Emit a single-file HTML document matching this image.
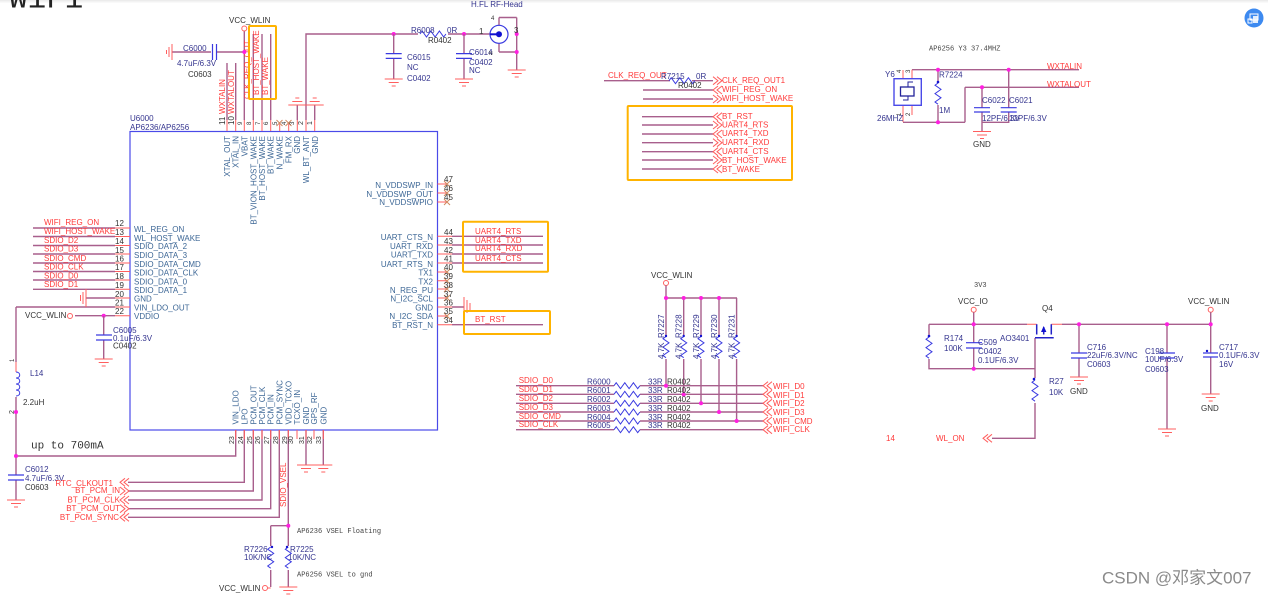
<!DOCTYPE html>
<html><head><meta charset="utf-8"><title>WiFi schematic</title>
<style>
html,body{margin:0;padding:0;background:#fff;width:1268px;height:596px;overflow:hidden}
svg{display:block;filter:blur(.3px)}
text{font-family:"Liberation Sans","Noto Sans CJK SC",sans-serif;font-size:8px;fill:#333}
.r{fill:#ff3a3a}.b{fill:#3d6796}.n{fill:#35358f}.k{fill:#333}
.m{font-family:"Liberation Mono",monospace;font-size:7px;fill:#444}
.w{fill:none;stroke:#a85f8c;stroke-width:1.4}
.p{fill:none;stroke:#ff5f5f;stroke-width:1}
.u{fill:none;stroke:#3a3ae0;stroke-width:1}
.o{fill:none;stroke:#ffb300;stroke-width:2}
.j{fill:#ff1fe0}
</style></head><body>
<svg width="1268" height="596" viewBox="0 0 1268 596" xmlns="http://www.w3.org/2000/svg">
<defs>
<path id="g" d="M-9 0H9M-5 3.5H5M-2 7H2" fill="none" stroke="#ff5f5f"/>
<path id="gu" d="M-9 0H9M-5 -3.5H5M-2 -7H2" fill="none" stroke="#ff5f5f"/>
<path id="hr" d="M0 0l2.2-3 4.3 6 4.3-6 4.3 6 4.3-6 4.3 6 2.2-3" fill="none" stroke="#3a3ae0"/>
<path id="vr" d="M0 0l-3 2.2 6 4.2-6 4.2 6 4.2-6 4.2 3 2.2" fill="none" stroke="#3a3ae0"/>
<path id="cl" d="M5-4L0 0 5 4M9-4L4 0 9 4" fill="none" stroke="#ff5f5f"/>
<path id="cr" d="M0-4L5 0 0 4M4-4L9 0 4 4" fill="none" stroke="#ff5f5f"/>
<path id="cv" d="M-8-2.4H8M-8 2.4H8" fill="none" stroke="#3a3ae0" stroke-width="1.2"/>
</defs>
<rect width="1268" height="596" fill="#fff"/>
<rect width="1268" height="1" fill="#ececec"/>
<rect y="1" width="1268" height="1" fill="#f3f3f3"/>
<rect y="2" width="1268" height="1" fill="#f9f9f9"/>

<text x="9" y="7.5" style="font-family:'Liberation Mono',monospace;font-size:31px;fill:#222">WiFi</text>

<!-- chip -->
<rect x="130" y="131.5" width="307.5" height="298.5" fill="none" stroke="#4a4ae8" stroke-width="1.2"/>
<text x="130" y="121" class="n">U6000</text>
<text x="130" y="130" class="n">AP6236/AP6256</text>

<!-- top pins -->
<path class="w" d="M227 63V120M235.7 63V120M244.3 31V120M253.3 34V120M262 34V120M270.7 34V120M297.3 105V120M314.7 105V120M306 120V34H490"/>
<path class="p" d="M227 120V131M235.7 120V131M244.3 120V131M253.3 120V131M262 120V131M270.7 120V131M279.7 122V131M288.7 122V131M297.3 120V131M306 120V131M314.7 120V131"/>
<path d="M276.5 120l6 6m0-6l-6 6M285.5 120l6 6m0-6l-6 6" stroke="#d08a60" fill="none"/>
<use href="#gu" x="297.3" y="105"/><use href="#gu" x="314.7" y="105"/>
<g class="k" style="font-size:7px">
<text transform="translate(225,125) rotate(-90)" style="font-size:8px">11</text>
<text transform="translate(234,125) rotate(-90)" style="font-size:8px">10</text>
<text transform="translate(242,125) rotate(-90)" style="font-size:6px">9</text>
<text transform="translate(251,125) rotate(-90)" style="font-size:6px">8</text>
<text transform="translate(260,125) rotate(-90)" style="font-size:6px">7</text>
<text transform="translate(268,125) rotate(-90)" style="font-size:6px">6</text>
<text transform="translate(277,125) rotate(-90)" style="font-size:6px">5</text>
<text transform="translate(286,125) rotate(-90)" style="font-size:6px">4</text>
<text transform="translate(294,125) rotate(-90)" style="font-size:6px">3</text>
<text transform="translate(303,125) rotate(-90)" style="font-size:7px">2</text>
<text transform="translate(312,125) rotate(-90)" style="font-size:7px">1</text>
</g>
<g class="b">
<text class="b" text-anchor="end" transform="translate(230,136) rotate(-90)">XTAL_OUT</text>
<text class="b" text-anchor="end" transform="translate(238.7,136) rotate(-90)">XTAL_IN</text>
<text class="b" text-anchor="end" transform="translate(247.3,136) rotate(-90)">VBAT</text>
<text class="b" text-anchor="end" transform="translate(256.3,136) rotate(-90)">BT_VION_HOST_WAKE</text>
<text class="b" text-anchor="end" transform="translate(265,136) rotate(-90)">BT_HOST_WAKE</text>
<text class="b" text-anchor="end" transform="translate(273.7,136) rotate(-90)">BT_WAKE</text>
<text class="b" text-anchor="end" transform="translate(282.7,136) rotate(-90)">N_WAKE</text>
<text class="b" text-anchor="end" transform="translate(291.7,136) rotate(-90)">FM_RX</text>
<text class="b" text-anchor="end" transform="translate(300,136) rotate(-90)">GND</text>
<text class="b" text-anchor="end" transform="translate(309,136) rotate(-90)">WL_BT_ANT</text>
<text class="b" text-anchor="end" transform="translate(318,136) rotate(-90)">GND</text>
</g>
<text class="r" transform="translate(225,114) rotate(-90)">WXTALIN</text>
<text class="r" transform="translate(234,114) rotate(-90)">WXTALOUT</text>
<text class="r" transform="translate(250,99) rotate(-90)">CLK_REQ_OUT</text>
<text class="r" transform="translate(259,95) rotate(-90)">BT_HOST_WAKE</text>
<text class="r" transform="translate(268,95) rotate(-90)">BT_WAKE</text>

<!-- C6000 -->
<text x="229" y="23">VCC_WLIN</text>
<circle cx="244.3" cy="28.5" r="2.5" fill="none" stroke="#ff5f5f"/>
<path class="w" d="M172 52H211M217 52H244"/>
<path class="u" d="M212.5 44V60M216.5 44V60" style="stroke-width:1.2"/>
<path d="M172 44V60M169 47V57M166.500 50V54" fill="none" stroke="#ff5f5f"/>
<circle class="j" cx="244.300" cy="52" r="2"/>
<text x="183" y="51" class="n">C6000</text>
<text x="177" y="66" class="n">4.7uF/6.3V</text>
<text x="188" y="77">C0603</text>
<rect class="o" x="249" y="26" width="27" height="73" rx="1"/>

<!-- antenna net -->
<circle class="j" cx="393.700" cy="34" r="2"/><circle class="j" cx="464" cy="34" r="2"/>
<rect x="418" y="31" width="30" height="6" fill="#fff"/>
<use href="#hr" x="420" y="34"/>
<text x="411" y="33" class="n">R6008</text>
<text x="447" y="33" class="n">0R</text>
<text x="428" y="43">R0402</text>
<path class="w" d="M393.7 34V53M393.7 59V79M464 34V53M464 59V79M516.7 17.500V70M499 17.500H516.700M499 52H516.700M499 17.500V25M499 43V52"/>
<use href="#cv" x="393.700" y="56"/><use href="#cv" x="464" y="56"/>
<use href="#g" x="393.700" y="79"/><use href="#g" x="464" y="79"/><use href="#g" x="516.700" y="70"/>
<text x="407" y="60" class="n">C6015</text>
<text x="407" y="70" class="n">NC</text>
<text x="407" y="81" class="n">C0402</text>
<text x="469" y="55" class="n">C6014</text>
<text x="489" y="55" class="k" style="font-size:5px">N</text>
<text x="469" y="65" class="n">C0402</text>
<text x="469" y="73" class="n">NC</text>
<circle cx="499" cy="34.300" r="9" fill="#fff" stroke="#3a3ae0" stroke-width="1.200"/>
<path d="M490 34.300H499" stroke="#1010d0" stroke-width="2"/>
<circle cx="499" cy="34.300" r="3" fill="#1010d0"/>
<circle class="j" cx="516.700" cy="34" r="2"/><circle class="j" cx="516.700" cy="52" r="2"/>
<text x="471" y="7" class="n">H.FL RF-Head</text>
<text x="491" y="20" style="font-size:6px">4</text>
<text x="514" y="33">3</text>
<text x="479" y="34">1</text>

<!-- left pins -->
<path class="w" d="M33 228H115M33 236.500H115M33 245.500H115M33 254H115M33 263H115M33 271.500H115M33 280H115M33 289.300H115M86 298H115M16 307H115M75 315.700H115M16 307V362"/>
<path class="p" d="M115 228H130M115 236.500H130M115 245.500H130M115 254H130M115 263H130M115 271.500H130M115 280H130M115 289.300H130M115 298H130M115 307H130M115 315.700H130"/>
<path d="M86 289V307M83 292V304M80.500 295V301" fill="none" stroke="#ff5f5f"/>
<g>
<text x="44" y="225" class="r">WIFI_REG_ON</text>
<text x="44" y="234" class="r">WIFI_HOST_WAKE</text>
<text x="44" y="243" class="r">SDIO_D2</text>
<text x="44" y="251.500" class="r">SDIO_D3</text>
<text x="44" y="261" class="r">SDIO_CMD</text>
<text x="44" y="269.500" class="r">SDIO_CLK</text>
<text x="44" y="278.500" class="r">SDIO_D0</text>
<text x="44" y="287" class="r">SDIO_D1</text>
</g>
<g>
<text x="115" y="226">12</text><text x="115" y="235">13</text><text x="115" y="244">14</text><text x="115" y="253">15</text><text x="115" y="261.500">16</text><text x="115" y="270">17</text><text x="115" y="279">18</text><text x="115" y="288">19</text><text x="115" y="297">20</text><text x="115" y="305.500">21</text><text x="115" y="314">22</text>
</g>
<g>
<text x="134" y="232" class="b">WL_REG_ON</text>
<text x="134" y="241" class="b">WL_HOST_WAKE</text>
<text x="134" y="249" class="b">SDIO_DATA_2</text>
<text x="134" y="258" class="b">SDIO_DATA_3</text>
<text x="134" y="267" class="b">SDIO_DATA_CMD</text>
<text x="134" y="275.500" class="b">SDIO_DATA_CLK</text>
<text x="134" y="284.500" class="b">SDIO_DATA_0</text>
<text x="134" y="293" class="b">SDIO_DATA_1</text>
<text x="134" y="301.500" class="b">GND</text>
<text x="134" y="310.500" class="b">VIN_LDO_OUT</text>
<text x="134" y="319" class="b">VDDIO</text>
</g>
<text x="25" y="318">VCC_WLIN</text>
<circle cx="70" cy="316" r="2.500" fill="none" stroke="#ff5f5f"/>
<circle class="j" cx="103.700" cy="315.700" r="2"/>
<path class="w" d="M103.700 316V335M103.700 340V359"/>
<path d="M96 335H112M96 340H112" stroke="#3a3ae0" stroke-width="1.200"/>
<use href="#g" x="103.700" y="359"/>
<text x="113" y="333" class="n">C6005</text>
<text x="113" y="341" class="n">0.1uF/6.3V</text>
<text x="113" y="348.500">C0402</text>

<!-- L14 -->
<text transform="translate(14,362) rotate(-90)" style="font-size:6px">1</text>
<text transform="translate(14,414) rotate(-90)" style="font-size:7px">2</text>
<path class="p" d="M16 362V372"/>
<path class="u" d="M16 372c5 0 5 6 0 6 5 0 5 6 0 6 5 0 5 6 0 6 5 0 5 6 0 6"/>
<path class="w" d="M16 397V475M16 480V500M16 456H235.700V430"/>
<circle class="j" cx="16" cy="412" r="2"/><circle class="j" cx="16" cy="456" r="2"/>
<text x="30" y="376" class="n">L14</text>
<text x="23" y="405">2.2uH</text>
<text x="31" y="448.500" class="m" style="font-size:11px;fill:#333">up to 700mA</text>
<path d="M8 475H24M8 480H24" stroke="#3a3ae0" stroke-width="1.200"/>
<use href="#g" x="16" y="500"/>
<text x="25" y="472" class="n">C6012</text>
<text x="25" y="481" class="n">4.7uF/6.3V</text>
<text x="25" y="490">C0603</text>

<!-- bottom pins -->
<path class="w" d="M128 482.300H244.300V430M128 491H253.300V430M128 500H262V430M128 508.700H270.700V430M128 517.300H279.300V430M288.300 430V587M270.700 525.700H288.300M270.700 525.700V587M306 430V465M323.300 430V465"/>
<path class="p" d="M235.700 430V439M244.300 430V439M253.300 430V439M262 430V439M270.700 430V439M279.300 430V439M288.300 430V439M297 430V439M306 430V439M314 430V439M323.300 430V439"/>
<use href="#g" x="306" y="465"/><use href="#g" x="323.300" y="465"/>
<g>
<text transform="translate(234,444) rotate(-90)" style="font-size:7px">23</text><text transform="translate(243,444) rotate(-90)" style="font-size:7px">24</text><text transform="translate(252,444) rotate(-90)" style="font-size:7px">25</text><text transform="translate(260,444) rotate(-90)" style="font-size:7px">26</text><text transform="translate(269,444) rotate(-90)" style="font-size:7px">27</text><text transform="translate(278,444) rotate(-90)" style="font-size:7px">28</text><text transform="translate(287,444) rotate(-90)" style="font-size:7px">29</text><text transform="translate(293,444) rotate(-90)" style="font-size:7px">30</text><text transform="translate(304,444) rotate(-90)" style="font-size:7px">31</text><text transform="translate(312,444) rotate(-90)" style="font-size:7px">32</text><text transform="translate(321,444) rotate(-90)" style="font-size:7px">33</text>
</g>
<g>
<text class="b" transform="translate(238.700,424.500) rotate(-90)">VIN_LDO</text>
<text class="b" transform="translate(247.300,424.500) rotate(-90)">LPO</text>
<text class="b" transform="translate(256.300,424.500) rotate(-90)">PCM_OUT</text>
<text class="b" transform="translate(265,424.500) rotate(-90)">PCM_CLK</text>
<text class="b" transform="translate(273.700,424.500) rotate(-90)">PCM_IN</text>
<text class="b" transform="translate(282.300,424.500) rotate(-90)">PCM_SYNC</text>
<text class="b" transform="translate(291.300,424.500) rotate(-90)">VDD_TCXO</text>
<text class="b" transform="translate(300,424.500) rotate(-90)">TCXO_IN</text>
<text class="b" transform="translate(309,424.500) rotate(-90)">GND</text>
<text class="b" transform="translate(317,424.500) rotate(-90)">GPS_RF</text>
<text class="b" transform="translate(326.300,424.500) rotate(-90)">GND</text>
</g>
<use href="#cl" x="120" y="482.300"/><use href="#cr" x="120" y="491"/><use href="#cl" x="120" y="500"/><use href="#cr" x="120" y="508.700"/><use href="#cl" x="120" y="517.300"/>
<g text-anchor="end">
<text x="113" y="486" class="r">RTC_CLKOUT1</text>
<text x="120" y="493" class="r">BT_PCM_IN</text>
<text x="120" y="502.700" class="r">BT_PCM_CLK</text>
<text x="120" y="511" class="r">BT_PCM_OUT</text>
<text x="119" y="520" class="r">BT_PCM_SYNC</text>
</g>
<text class="r" transform="translate(286,507) rotate(-90)">SDIO_VSEL</text>
<circle class="j" cx="288.300" cy="525.700" r="2"/>
<text x="297" y="533" class="m">AP6236 VSEL Floating</text>
<text x="297" y="576.500" class="m">AP6256 VSEL to gnd</text>
<rect x="267" y="546" width="25" height="24" fill="#fff"/>
<use href="#vr" x="270.700" y="547"/><use href="#vr" x="288.300" y="547"/>
<circle cx="272" cy="547" r="1.200" fill="#1010d0"/><circle cx="287" cy="547" r="1.200" fill="#1010d0"/>
<text x="244" y="552" class="n">R7226</text><text x="244" y="560" class="n">10K/NC</text>
<text x="290" y="552" class="n">R7225</text><text x="288" y="560" class="n">10K/NC</text>
<circle cx="265" cy="588" r="2.500" fill="none" stroke="#ff5f5f"/>
<path class="p" d="M267.500 588H270.700"/>
<text x="219" y="591">VCC_WLIN</text>
<use href="#g" x="288.300" y="587"/>

<!-- right pins -->
<path class="p" d="M437.500 184H447M437.500 193H447M437.500 202H447M437.500 272H447M437.500 280.700H447M437.500 289H447M437.500 298H447M437.500 316H447M437.500 236.300H452M437.500 245H452M437.500 254H452M437.500 263H452M437.500 324.700H452M437.500 307H452"/>
<path class="w" d="M452 236.300H543M452 245H543M452 254H543M452 263H543M452 324.700H543M452 307H464"/>
<path d="M444 181l6 6m0-6l-6 6M444 190l6 6m0-6l-6 6M444 199l6 6m0-6l-6 6M444 269l6 6m0-6l-6 6M444 278l6 6m0-6l-6 6M444 286l6 6m0-6l-6 6M444 295l6 6m0-6l-6 6M444 313l6 6m0-6l-6 6" stroke="#d08a60" fill="none"/>
<path d="M464 297V316M467 300V313M470 303V310" fill="none" stroke="#ff5f5f"/>
<g text-anchor="end">
<text x="433" y="188" class="b">N_VDDSWP_IN</text>
<text x="433" y="197" class="b">N_VDDSWP_OUT</text>
<text x="433" y="205" class="b">N_VDDSWPIO</text>
<text x="433" y="240" class="b">UART_CTS_N</text>
<text x="433" y="249" class="b">UART_RXD</text>
<text x="433" y="257.500" class="b">UART_TXD</text>
<text x="433" y="267" class="b">UART_RTS_N</text>
<text x="433" y="275.500" class="b">TX1</text>
<text x="433" y="284.500" class="b">TX2</text>
<text x="433" y="293" class="b">N_REG_PU</text>
<text x="433" y="301.500" class="b">N_I2C_SCL</text>
<text x="433" y="310.500" class="b">GND</text>
<text x="433" y="319" class="b">N_I2C_SDA</text>
<text x="433" y="328" class="b">BT_RST_N</text>
</g>
<g>
<text x="444" y="182">47</text><text x="444" y="191">46</text><text x="444" y="200">45</text>
<text x="444" y="235">44</text><text x="444" y="244">43</text><text x="444" y="253">42</text><text x="444" y="261.500">41</text><text x="444" y="270">40</text><text x="444" y="279">39</text><text x="444" y="288">38</text><text x="444" y="297">37</text><text x="444" y="305.500">36</text><text x="444" y="314">35</text><text x="444" y="323">34</text>
</g>
<text x="475" y="234" class="r">UART4_RTS</text>
<text x="475" y="243" class="r">UART4_TXD</text>
<text x="475" y="251" class="r">UART4_RXD</text>
<text x="475" y="261" class="r">UART4_CTS</text>
<text x="475" y="322" class="r">BT_RST</text>
<rect class="o" x="463" y="221.700" width="85" height="50" rx="1"/>
<rect class="o" x="464" y="311" width="86" height="23" rx="1"/>

<!-- middle top labels -->
<text x="608" y="78" class="r">CLK_REQ_OUT</text>
<path class="w" d="M604 80.700H670M692 80.700H713M643 90H713M643 99H713M642 116.700H713M642 125H713M642 134H713M642 142.700H713M642 151.700H713M642 160H713M642 169H713"/>
<use href="#hr" x="669" y="80.700"/>
<text x="661" y="79" class="n">R7215</text><text x="696" y="79" class="n">0R</text><text x="678" y="88">R0402</text>
<use href="#cr" x="713" y="80.700"/><use href="#cl" x="713" y="90"/><use href="#cr" x="713" y="99"/><use href="#cl" x="713" y="116.700"/><use href="#cr" x="713" y="125"/><use href="#cl" x="713" y="134"/><use href="#cr" x="713" y="142.700"/><use href="#cl" x="713" y="151.700"/><use href="#cr" x="713" y="160"/><use href="#cl" x="713" y="169"/>
<g>
<text x="722" y="83" class="r">CLK_REQ_OUT1</text>
<text x="722" y="92" class="r">WIFI_REG_ON</text>
<text x="722" y="101" class="r">WIFI_HOST_WAKE</text>
<text x="722" y="119" class="r">BT_RST</text>
<text x="722" y="127.700" class="r">UART4_RTS</text>
<text x="722" y="136" class="r">UART4_TXD</text>
<text x="722" y="145" class="r">UART4_RXD</text>
<text x="722" y="154" class="r">UART4_CTS</text>
<text x="722" y="163" class="r">BT_HOST_WAKE</text>
<text x="722" y="172" class="r">BT_WAKE</text>
</g>
<rect class="o" x="627.700" y="106" width="164.300" height="74" rx="1"/>

<!-- crystal -->
<text x="929" y="50.500" class="m">AP6256 Y3 37.4MHZ</text>
<path class="w" d="M912 69.700H1079M965 87.300H1079M903 122.300H965M965 87.300V122.300M938 69.700V82M938 105V122.300M1008.700 69.700V107.700M1008.700 112V122.300H982M982 87.300V107.700M982 112V131.500"/>
<path class="p" d="M903 70V78.700M912 69.700V78.700M903 105.300V122M912 105.300V115"/>
<rect x="894" y="78.700" width="27.300" height="26.600" fill="none" stroke="#4a4ae8" stroke-width="1.400"/>
<rect x="900.500" y="87" width="13.500" height="9" fill="none" stroke="#22229a" stroke-width="1.300"/>
<path d="M908 87V82H913M908 96V100H903" fill="none" stroke="#22229a"/>
<text x="885" y="77" class="n">Y6</text>
<text transform="translate(901,73) rotate(-90)" style="font-size:6px">4</text>
<text transform="translate(910,73) rotate(-90)" style="font-size:6px">3</text>
<text transform="translate(901,116) rotate(-90)" style="font-size:6px">1</text>
<text transform="translate(910,116) rotate(-90)" style="font-size:6px">2</text>
<text x="877" y="121" class="n">26MHZ</text>
<use href="#vr" x="938" y="83"/>
<circle cx="938" cy="82" r="1.300" fill="#1010d0"/>
<text x="939" y="77.700" class="n">R7224</text><text x="939" y="113" class="n">1M</text>
<path d="M974 107.700H990M974 112H990M1000.700 107.700H1016.700M1000.700 112H1016.700" stroke="#3a3ae0" stroke-width="1.200"/>
<circle class="j" cx="938" cy="69.700" r="2"/><circle class="j" cx="1008.700" cy="69.700" r="2"/><circle class="j" cx="982" cy="87.300" r="2"/><circle class="j" cx="938" cy="122.300" r="2"/>
<use href="#g" x="982" y="131.500"/>
<text x="982" y="103" class="n">C6022</text><text x="1009" y="103" class="n">C6021</text>
<text x="982" y="121" class="n">12PF/6.3V</text><text x="1009" y="121" class="n">12PF/6.3V</text>
<text x="973" y="147">GND</text>
<text x="1047" y="69" class="r">WXTALIN</text><text x="1047" y="87" class="r">WXTALOUT</text>

<!-- pull-ups -->
<text x="651" y="278">VCC_WLIN</text>
<circle cx="666" cy="283" r="2.500" fill="none" stroke="#ff5f5f"/>
<path class="w" d="M666 298H737M666 285.500V336M683.700 298V336M701 298V336M719 298V336M736.600 298V336M666 359V385.700M683.700 359V394.500M701 359V403.300M719 359V412M736.600 359V421"/>
<path class="w" d="M516 385.700H614M516 394.300H614M516 403.300H614M516 412H614M516 421H614M516 429.700H614M640 385.700H763M640 394.300H763M640 403.300H763M640 412H763M640 421H763M640 429.700H763"/>
<g>
<use href="#vr" x="666" y="336.500"/><use href="#vr" x="683.700" y="336.500"/><use href="#vr" x="701" y="336.500"/><use href="#vr" x="719" y="336.500"/><use href="#vr" x="736.600" y="336.500"/>
<circle cx="666" cy="336" r="1.200" fill="#1010d0"/><circle cx="683.700" cy="336" r="1.200" fill="#1010d0"/><circle cx="701" cy="336" r="1.200" fill="#1010d0"/><circle cx="719" cy="336" r="1.200" fill="#1010d0"/><circle cx="736.600" cy="336" r="1.200" fill="#1010d0"/>
</g>
<g>
<text class="n" transform="translate(664,338) rotate(-90)">R7227</text><text class="n" transform="translate(681.500,338) rotate(-90)">R7228</text><text class="n" transform="translate(699,338) rotate(-90)">R7229</text><text class="n" transform="translate(717,338) rotate(-90)">R7230</text><text class="n" transform="translate(734.500,338) rotate(-90)">R7231</text>
<text class="n" transform="translate(664,359) rotate(-90)">4.7K</text><text class="n" transform="translate(681.500,359) rotate(-90)">4.7K</text><text class="n" transform="translate(699,359) rotate(-90)">4.7K</text><text class="n" transform="translate(717,359) rotate(-90)">4.7K</text><text class="n" transform="translate(734.500,359) rotate(-90)">4.7K</text>
</g>
<circle class="j" cx="666" cy="298" r="2"/><circle class="j" cx="683.700" cy="298" r="2"/><circle class="j" cx="701" cy="298" r="2"/><circle class="j" cx="719" cy="298" r="2"/>
<circle class="j" cx="666" cy="385.700" r="2"/><circle class="j" cx="683.700" cy="394.500" r="2"/><circle class="j" cx="701" cy="403.300" r="2"/><circle class="j" cx="719" cy="412" r="2"/><circle class="j" cx="736.600" cy="421" r="2"/>
<use href="#hr" x="614" y="385.700"/><use href="#hr" x="614" y="394.300"/><use href="#hr" x="614" y="403.300"/><use href="#hr" x="614" y="412"/><use href="#hr" x="614" y="421"/><use href="#hr" x="614" y="429.700"/>
<use href="#cl" x="763" y="385.700"/><use href="#cl" x="763" y="394.300"/><use href="#cl" x="763" y="403.300"/><use href="#cl" x="763" y="412"/><use href="#cl" x="763" y="421"/><use href="#cl" x="763" y="429.700"/>
<g>
<text x="518.700" y="383" class="r">SDIO_D0</text><text x="518.700" y="392" class="r">SDIO_D1</text><text x="518.700" y="401" class="r">SDIO_D2</text><text x="518.700" y="410" class="r">SDIO_D3</text><text x="518.700" y="419" class="r">SDIO_CMD</text><text x="518.700" y="427" class="r">SDIO_CLK</text>
<text x="587" y="384.500" class="n">R6000</text><text x="587" y="393" class="n">R6001</text><text x="587" y="402" class="n">R6002</text><text x="587" y="411" class="n">R6003</text><text x="587" y="420" class="n">R6004</text><text x="587" y="428" class="n">R6005</text>
<text x="648" y="384.500" class="n">33R</text><text x="648" y="393" class="n">33R</text><text x="648" y="402" class="n">33R</text><text x="648" y="411" class="n">33R</text><text x="648" y="420" class="n">33R</text><text x="648" y="428" class="n">33R</text>
<text x="667" y="384.500">R0402</text><text x="667" y="393">R0402</text><text x="667" y="402">R0402</text><text x="667" y="411">R0402</text><text x="667" y="420">R0402</text><text x="667" y="428">R0402</text>
<text x="773" y="389" class="r">WIFI_D0</text><text x="773" y="398" class="r">WIFI_D1</text><text x="773" y="406" class="r">WIFI_D2</text><text x="773" y="415" class="r">WIFI_D3</text><text x="773" y="424" class="r">WIFI_CMD</text><text x="773" y="432" class="r">WIFI_CLK</text>
</g>

<!-- power switch -->
<text x="974" y="287" class="m">3V3</text>
<text x="958" y="304">VCC_IO</text>
<circle cx="973.700" cy="309.700" r="2.500" fill="none" stroke="#ff5f5f"/>
<text x="1042" y="311">Q4</text>
<text x="1188" y="304">VCC_WLIN</text>
<circle cx="1210.700" cy="309.700" r="2.500" fill="none" stroke="#ff5f5f"/>
<path class="w" d="M929 324.300H1027M1062 324.300H1210.700M929 324.300V336M929 359V368.700H1035M973.700 312.200V342.700M973.700 348V368.700M1035 338V378M1035 403V438.300H992M1079 324.300V353M1079 358V377M1167 324.300V353M1167 358V429M1210.700 312.200V353M1210.700 357V394"/>
<use href="#vr" x="929" y="337"/><use href="#vr" x="1035" y="380"/>
<circle cx="929" cy="336" r="1.300" fill="#1010d0"/><circle cx="1034" cy="379" r="1.300" fill="#1010d0"/>
<path d="M966 342.700H982M966 348H982M1071 353H1087M1071 358H1087M1159 353H1175M1159 358H1175M1203 353H1218M1203 357H1218" stroke="#3a3ae0" stroke-width="1.200"/>
<path class="p" d="M1027 324.300H1036.700M1051.300 324.300H1062"/>
<path d="M1035 337.700H1053.700M1036.700 324.300V334.500M1051.300 324.300V334.500M1043.700 327V334.500" fill="none" stroke="#2222c8" stroke-width="1.500"/>
<path d="M1043.700 326L1041 332H1046.400Z" fill="#1010d0"/>
<circle class="j" cx="973.700" cy="324.300" r="2"/><circle class="j" cx="973.700" cy="368.700" r="2"/><circle class="j" cx="1079" cy="324.300" r="2"/><circle class="j" cx="1167" cy="324.300" r="2"/><circle class="j" cx="1210.700" cy="324.300" r="2"/>
<text x="944" y="341" class="n">R174</text><text x="944" y="351" class="n">100K</text>
<text x="978" y="345" class="n">C509</text><text x="978" y="354" class="n">C0402</text><text x="978" y="363" class="n">0.1UF/6.3V</text>
<text x="1000" y="341" class="n">AO3401</text>
<text x="1049" y="384" class="n">R27</text><text x="1049" y="395" class="n">10K</text>
<use href="#cl" x="983" y="438.300"/>
<text x="936" y="441" class="r">WL_ON</text><text x="886" y="441" class="r">14</text>
<use href="#g" x="1079" y="377"/><text x="1070" y="394">GND</text>
<use href="#g" x="1167" y="429"/>
<use href="#g" x="1210.700" y="394"/><text x="1201" y="411">GND</text>
<circle cx="1207" cy="351" r="1.200" fill="#1010d0"/>
<text x="1087" y="350" class="n">C716</text><text x="1087" y="358" class="n">22uF/6.3V/NC</text><text x="1087" y="367" class="n">C0603</text>
<text x="1145" y="354" class="n">C198</text><text x="1145" y="362" class="n">10UF/6.3V</text><text x="1145" y="372" class="n">C0603</text>
<text x="1219" y="350" class="n">C717</text><text x="1219" y="358" class="n">0.1UF/6.3V</text><text x="1219" y="367" class="n">16V</text>

<!-- overlay -->
<circle cx="1254" cy="18" r="9.500" fill="#3d8af0"/>
<rect x="1250" y="14" width="8" height="6" fill="none" stroke="#fff"/>
<rect x="1253" y="16" width="5" height="7" fill="#fff" opacity=".85"/>
<rect x="1248" y="19" width="4" height="4" fill="none" stroke="#fff"/>
<text x="1102" y="583.500" style="font-size:17px;fill:#8a8a8a">CSDN @邓家文007</text>
</svg>
</body></html>
